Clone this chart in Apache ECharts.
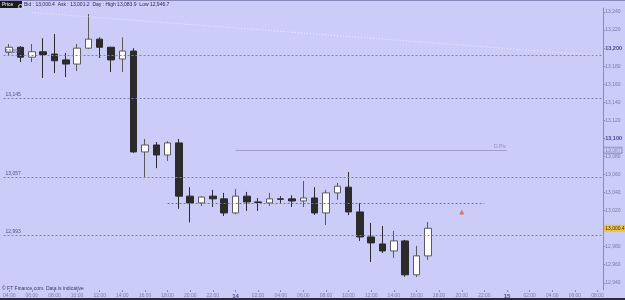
<!DOCTYPE html>
<html>
<head>
<meta charset="utf-8">
<script src="https://cdn.jsdelivr.net/npm/echarts@6/dist/echarts.min.js"></script>
<style>
  html, body { margin: 0; padding: 0; background: #ccccf8; }
  #chart { width: 625px; height: 300px; }
</style>
</head>
<body>
<div id="chart"></div>
<script>
// hourly slots, day 13 04:00 -> day 15 08:00
const hours = [
  '13 04:00','13 05:00','13 06:00','13 07:00','13 08:00','13 09:00','13 10:00','13 11:00','13 12:00','13 13:00',
  '13 14:00','13 15:00','13 16:00','13 17:00','13 18:00','13 19:00','13 20:00','13 21:00','13 22:00','13 23:00',
  '14 00:00','14 01:00','14 02:00','14 03:00','14 04:00','14 05:00','14 06:00','14 07:00','14 08:00','14 09:00',
  '14 10:00','14 11:00','14 12:00','14 13:00','14 14:00','14 15:00','14 16:00','14 17:00','14 18:00','14 19:00',
  '14 20:00','14 21:00','14 22:00','14 23:00',
  '15 00:00','15 01:00','15 02:00','15 03:00','15 04:00','15 05:00','15 06:00','15 07:00','15 08:00'
]

const openV  = [13195.7,13201.0,13190.0,13196.0,13193.5,13187.0,13182.4,13200.0,13210.0,13201.0,
                13188.0,13196.8,13085.0,13092.7,13081.6,13095.0,13036.0,13028.5,13036.0,13033.0,
                13017.4,13036.0,13029.6,13028.5,13033.0,13033.0,13030.7,13034.0,13017.4,13039.6,
                13046.0,13018.5,12990.8,12983.0,12975.3,12986.4,12948.8,12969.8]
const closeV = [13201.0,13190.0,13196.0,13193.0,13186.0,13182.4,13200.0,13210.0,13201.0,13187.0,
                13196.8,13085.0,13092.7,13081.6,13095.0,13036.0,13028.5,13035.0,13033.0,13017.4,
                13036.0,13029.6,13029.0,13033.0,13032.5,13030.7,13034.0,13017.4,13039.6,13047.0,
                13018.5,12990.8,12984.2,12975.3,12986.4,12948.8,12969.8,13000.4]
const lowV   = [13192.4,13184.6,13184.6,13167.0,13172.5,13168.0,13174.7,13199.0,13189.0,13173.6,
                13173.6,13084.0,13056.0,13067.0,13075.0,13022.0,13007.0,13025.0,13024.0,13014.0,
                13016.0,13019.6,13019.6,13025.2,13028.5,13024.0,13024.0,13015.2,13004.0,13032.0,
                13015.0,12986.4,12963.0,12973.0,12967.6,12946.7,12946.5,12965.4]
const highV  = [13204.6,13202.0,13204.6,13211.0,13215.6,13194.6,13204.6,13237.8,13212.0,13201.5,
                13212.0,13200.0,13099.4,13096.0,13097.0,13099.4,13046.0,13036.0,13043.0,13039.6,
                13044.0,13040.7,13034.0,13039.6,13036.0,13037.0,13052.8,13046.0,13043.0,13050.6,
                13062.8,13028.5,13006.3,13003.0,12997.5,12987.5,12980.9,13007.4]

const yTicks = [12940,12960,12980,13000,13020,13040,13060,13080,13100,13120,13140,13160,13180,13200,13220,13240]
const boldTicks = [13100, 13200]

// horizontal levels (full width, labelled at left)
const levels = [13192, 13145, 13057, 12993]
// short dotted level and daily pivot: [fromIndex, toIndex, value]
const shortLevel = [14, 42, 13028.5]
const pivot = [20, 44, 13087]
// faint trend line: [[index, value], [index, value]]
const trend = [[2, 13239.5], [52, 13192]]
const alertMark = [40, 13018.5]
const lastPrice = 13000.4

const candles = openV.map((o, i) => [o, closeV[i], lowV[i], highV[i]])
const fmt = v => v.toLocaleString('en-US')

const chart = echarts.init(document.getElementById('chart'))

chart.setOption({
  backgroundColor: '#ccccf8',
  animation: false,
  textStyle: { fontFamily: 'Liberation Sans, Arial, sans-serif' },
  grid: { left: 0, right: 19, top: 8, bottom: 10 },
  xAxis: {
    type: 'category',
    data: hours,
    boundaryGap: true,
    axisLine: { show: false },
    axisTick: {
      show: true, length: 2, alignWithLabel: true,
      interval: (i, v) => +v.slice(3, 5) % 2 === 0,
      lineStyle: { color: '#8a8ab8' }
    },
    axisLabel: {
      margin: 3,
      fontSize: 5,
      color: '#7a7aa8',
      interval: (i, v) => +v.slice(3, 5) % 2 === 0,
      formatter: v => v.slice(3) === '00:00' ? '{d|' + v.slice(0, 2) + '}' : v.slice(3),
      rich: { d: { fontSize: 6, fontWeight: 'bold', color: '#4a4a90' } }
    },
    splitLine: { show: false }
  },
  yAxis: {
    type: 'value',
    position: 'right',
    min: 12932,
    max: 13244.5,
    scale: true,
    axisLine: { show: true, lineStyle: { color: '#8a8ab8' } },
    axisTick: { show: true, length: 2, customValues: yTicks, lineStyle: { color: '#8a8ab8' } },
    axisLabel: {
      customValues: yTicks,
      margin: 2,
      fontSize: 5,
      color: '#7a7aa8',
      formatter: v => boldTicks.includes(v) ? '{b|' + fmt(v) + '}' : fmt(v),
      rich: { b: { fontSize: 5.5, fontWeight: 'bold', color: '#4a4a90' } }
    },
    splitLine: { show: false }
  },
  series: [
    {
      type: 'candlestick',
      data: candles,
      barWidth: 7,
      clip: false,
      itemStyle: {
        color: '#ffffff',
        color0: '#2b2b2b',
        borderColor: '#5a5a5a',
        borderColor0: '#2b2b2b',
        borderWidth: 1
      },
      markLine: {
        silent: true,
        symbol: 'none',
        data: [
          ...levels.map(v => ({
            yAxis: v,
            lineStyle: { color: '#8080b8', type: [2, 2], width: 1 },
            label: { show: true, position: 'insideStartTop', distance: [2, 1], formatter: fmt(v), fontSize: 5, color: '#50508a' }
          })),
          [
            { coord: [shortLevel[0], shortLevel[2]], lineStyle: { color: '#7070b8', type: [2, 2], width: 1 }, label: { show: false } },
            { coord: [shortLevel[1], shortLevel[2]] }
          ],
          [
            { coord: [pivot[0], pivot[2]], lineStyle: { color: '#a0a0c4', type: 'solid', width: 1 },
              label: { show: true, position: 'insideEndTop', distance: [1, 1], formatter: 'D Piv', fontSize: 5, color: '#9090b8' } },
            { coord: [pivot[1], pivot[2]] }
          ],
          [
            { coord: trend[0], lineStyle: { color: '#eeeeff', type: [1, 2], width: 1 }, label: { show: false } },
            { coord: trend[1] }
          ],
          {
            yAxis: lastPrice,
            lineStyle: { color: 'rgba(0,0,0,0)', width: 1 },
            label: {
              show: true, position: 'end', distance: 1, formatter: fmt(lastPrice),
              fontSize: 5, color: '#333333', backgroundColor: '#f2c23a', padding: [1, 1]
            }
          },
          {
            yAxis: pivot[2],
            lineStyle: { color: 'rgba(0,0,0,0)', width: 1 },
            label: {
              show: true, position: 'end', distance: 1, formatter: fmt(pivot[2]),
              fontSize: 5, color: '#8a8ab8', backgroundColor: '#ccccf8', borderColor: '#8a8ab8', borderWidth: 1, padding: [0, 1]
            }
          }
        ]
      },
      markPoint: {
        silent: true,
        data: [{ coord: alertMark, symbol: 'triangle', symbolSize: 5, itemStyle: { color: '#e8704a' }, label: { show: false } }]
      }
    }
  ],
  graphic: [
    { type: 'rect', left: 0, top: 0, shape: { width: 625, height: 1 }, style: { fill: '#8888bb' } },
    { type: 'rect', left: 0, top: 1, shape: { width: 22, height: 7 }, style: { fill: '#1a1a1a' } },
    { type: 'text', left: 2, top: 2, style: { text: 'Price', fontSize: 5, fill: '#ffffff' } },
    { type: 'circle', left: 16, top: 2, shape: { r: 2 }, style: { fill: 'none', stroke: '#dddddd', lineWidth: 1 } },
    { type: 'text', left: 24, top: 2, style: { text: 'Bid : 13,000.4  Ask : 13,001.2  Day : High 13,083.9  Low 12,946.7', fontSize: 5, fill: '#2a2a4a' } },
    { type: 'text', left: 2, top: 286, style: { text: '\u00a9 FT Finance.com. Data is indicative', fontSize: 5, fill: '#3a3a5a' } },
    { type: 'rect', left: 0, top: 298, shape: { width: 625, height: 2 }, style: { fill: '#2a2a3a' } }
  ]
})
</script>
</body>
</html>
